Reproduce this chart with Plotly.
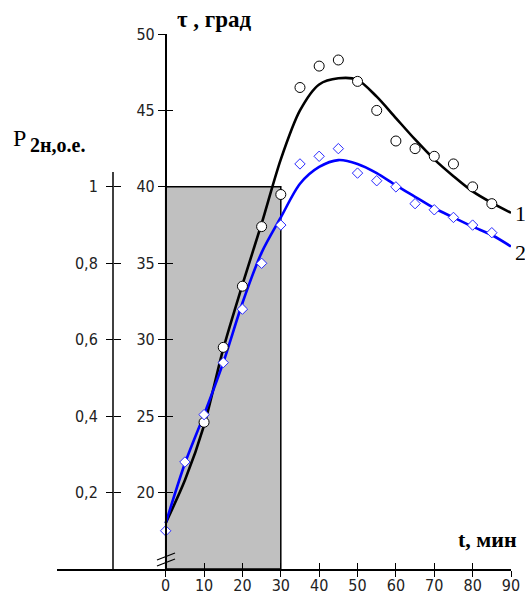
import plotly.graph_objects as go

# ---------------- data ----------------
t_ticks = [0, 10, 20, 30, 40, 50, 60, 70, 80, 90]
tau_ticks = [20, 25, 30, 35, 40, 45, 50]
p_ticks = [0.2, 0.4, 0.6, 0.8, 1.0]
p_ticklabels = ["0,2", "0,4", "0,6", "0,8", "1"]

# curve 1 (black, smoothed model)
curve_t = [0, 5, 10, 15, 20, 25, 30, 35, 40, 45, 50, 55, 60, 65, 70, 75, 80, 85, 90]
curve1_tau = [18.0, 20.8, 24.4, 29.4, 33.6, 37.6, 41.8, 45.0, 46.7, 47.1, 47.0,
              45.9, 44.5, 43.1, 41.8, 40.7, 39.7, 38.95, 38.3]
# curve 2 (blue)
curve2_tau = [18.0, 21.9, 25.1, 28.5, 32.4, 35.7, 38.0, 40.2, 41.3, 41.75, 41.5,
              40.9, 40.1, 39.35, 38.6, 38.0, 37.4, 36.85, 36.1]

# measured points, series 1 (circles)
pts1_t = [10, 15, 20, 25, 30, 35, 40, 45, 50, 55, 60, 65, 70, 75, 80, 85]
pts1_tau = [24.6, 29.5, 33.5, 37.4, 39.5, 46.5, 47.9, 48.3, 46.9, 45.0, 43.0,
            42.5, 42.0, 41.5, 40.0, 38.9]
# measured points, series 2 (diamonds)
pts2_t = [0, 5, 10, 15, 20, 25, 30, 35, 40, 45, 50, 55, 60, 65, 70, 75, 80, 85]
pts2_tau = [17.5, 22.0, 25.1, 28.5, 32.0, 35.0, 37.5, 41.5, 42.0, 42.5, 40.9,
            40.4, 40.0, 38.9, 38.5, 38.0, 37.5, 37.0]

# load pulse P2н = 1 for t in [0, 30]
pulse_t = [0, 30]
pulse_p = 1.0

# ---------------- geometry ----------------
W, H = 525, 594
TAU_MIN, TAU_MAX = 15, 50
X_LEFT_PX, X0_PX, X90_PX = 57, 165.7, 511
Y_BOT_PX, Y_TOP_PX = 569, 34
P_AXIS_PX = 113

px_per_min = (X90_PX - X0_PX) / 90.0
t_left = (X_LEFT_PX - X0_PX) / px_per_min
px_per_deg = (Y_BOT_PX - Y_TOP_PX) / (TAU_MAX - TAU_MIN)
p_scale = 25.0  # 1 p.u. == 25 degrees on the chart


def tau_of_px(py_):
    return TAU_MIN + (Y_BOT_PX - py_) / px_per_deg


def px(x):
    return x / W


def py(y):
    return 1 - y / H


tick_font = dict(family="Liberation Sans Narrow, DejaVu Sans Condensed, Arial Narrow, sans-serif",
                 size=16, color="#222")
serif = "Liberation Serif, Times New Roman, serif"

fig = go.Figure()

fig.add_trace(go.Scatter(x=curve_t, y=curve1_tau, mode="lines",
                         line=dict(color="black", width=2.6, shape="spline", smoothing=0.8),
                         showlegend=False, hoverinfo="skip"))
fig.add_trace(go.Scatter(x=curve_t, y=curve2_tau, mode="lines",
                         line=dict(color="#0000ff", width=2.6, shape="spline", smoothing=0.8),
                         showlegend=False, hoverinfo="skip"))
fig.add_trace(go.Scatter(x=pts1_t, y=pts1_tau, mode="markers", cliponaxis=False,
                         marker=dict(symbol="circle", size=10, color="white",
                                     line=dict(color="black", width=1)),
                         showlegend=False))
fig.add_trace(go.Scatter(x=pts2_t, y=pts2_tau, mode="markers", cliponaxis=False,
                         marker=dict(symbol="diamond", size=8, color="white",
                                     line=dict(color="#2a2aff", width=1)),
                         showlegend=False))
# empty helper traces so the overlay axes get drawn
fig.add_trace(go.Scatter(x=[None], y=[None], xaxis="x2", yaxis="y", showlegend=False, hoverinfo="skip"))
fig.add_trace(go.Scatter(x=[None], y=[None], xaxis="x", yaxis="y2", showlegend=False, hoverinfo="skip"))
fig.add_trace(go.Scatter(x=[None], y=[None], xaxis="x", yaxis="y3", showlegend=False, hoverinfo="skip"))
fig.add_trace(go.Scatter(x=[None], y=[None], xaxis="x", yaxis="y4", showlegend=False, hoverinfo="skip"))

xdom = [px(X_LEFT_PX), px(X90_PX)]
ydom = [py(Y_BOT_PX), py(Y_TOP_PX)]
p_range = [0, (TAU_MAX - TAU_MIN) / p_scale]

common_x = dict(domain=xdom, range=[t_left, 90], tickvals=t_ticks, showgrid=False,
                zeroline=False, anchor="y", tickcolor="black", tickwidth=1.3, ticklen=6,
                fixedrange=True, automargin=False)
fig.update_layout(
    width=W, height=H, autosize=False,
    margin=dict(l=0, r=0, t=0, b=0, pad=0),
    paper_bgcolor="white", plot_bgcolor="rgba(0,0,0,0)",
    xaxis=dict(**common_x, ticks="outside", showline=True, linecolor="black", linewidth=1.5,
               tickfont=tick_font, ticklabelstandoff=-5),
    xaxis2=dict(**common_x, overlaying="x", ticks="inside", showline=False, showticklabels=False),
    yaxis=dict(domain=ydom, range=[TAU_MIN, TAU_MAX], tickvals=tau_ticks, anchor="free",
               position=px(X0_PX), ticks="outside", ticklen=7, tickwidth=1.3, tickcolor="black",
               showline=True, linecolor="black", linewidth=1.5, showgrid=False, zeroline=False,
               tickfont=tick_font, fixedrange=True, automargin=False),
    yaxis3=dict(overlaying="y", range=[TAU_MIN, TAU_MAX], tickvals=tau_ticks, anchor="free",
                position=px(X0_PX), ticks="inside", ticklen=6, tickwidth=1.3, tickcolor="black",
                showline=False, showgrid=False, zeroline=False, showticklabels=False,
                fixedrange=True, automargin=False),
    yaxis2=dict(overlaying="y", range=p_range, tickvals=p_ticks, ticktext=p_ticklabels,
                anchor="free", position=px(P_AXIS_PX), ticks="outside", ticklen=7,
                tickwidth=1.3, tickcolor="black", showline=False, showgrid=False,
                zeroline=False, tickfont=tick_font, ticklabelstandoff=5, fixedrange=True,
                automargin=False),
    yaxis4=dict(overlaying="y", range=p_range, tickvals=p_ticks, anchor="free",
                position=px(P_AXIS_PX), ticks="inside", ticklen=7, tickwidth=1.3,
                tickcolor="black", showline=False, showgrid=False, zeroline=False,
                showticklabels=False, fixedrange=True, automargin=False),
)

# grey load pulse (in P units on the P axis)
fig.add_shape(type="rect", xref="x", yref="y2", x0=pulse_t[0], x1=pulse_t[1],
              y0=0, y1=pulse_p, fillcolor="#c0c0c0",
              line=dict(color="black", width=1.5), layer="below")
# P axis line (extends slightly beyond its ticks)
fig.add_shape(type="line", xref="paper", yref="y",
              x0=px(P_AXIS_PX), x1=px(P_AXIS_PX),
              y0=tau_of_px(575), y1=tau_of_px(172),
              line=dict(color="black", width=1.5))
# axis break marks on the tau axis
for dy in (0, 6):
    fig.add_shape(type="line", xref="paper", yref="paper",
                  x0=px(157), y0=py(560 + dy), x1=px(175), y1=py(553 + dy),
                  line=dict(color="black", width=1.3))

# texts
fig.add_annotation(text="<b>τ , град</b>", xref="paper", yref="paper",
                   x=px(176), y=py(20), xanchor="left", yanchor="middle", align="left",
                   showarrow=False, borderpad=0,
                   font=dict(family=serif, size=23, color="black"))
fig.add_annotation(text="P", xref="paper", yref="paper",
                   x=px(19), y=py(138), xanchor="center", yanchor="middle",
                   showarrow=False, font=dict(family=serif, size=24, color="black"))
fig.add_annotation(text="<b>2н,о.е.</b>", xref="paper", yref="paper",
                   x=px(28), y=py(145), xanchor="left", yanchor="middle",
                   showarrow=False, font=dict(family=serif, size=20, color="black"))
fig.add_annotation(text="<b>t, мин</b>", xref="paper", yref="paper",
                   x=px(487), y=py(539), xanchor="center", yanchor="middle",
                   showarrow=False, font=dict(family=serif, size=22, color="black"))
fig.add_annotation(text="1", xref="paper", yref="paper",
                   x=px(513), y=py(213), xanchor="left", yanchor="middle",
                   showarrow=False, font=dict(family=serif, size=22, color="black"))
fig.add_annotation(text="2", xref="paper", yref="paper",
                   x=px(513), y=py(252), xanchor="left", yanchor="middle",
                   showarrow=False, font=dict(family=serif, size=22, color="black"))

fig.write_html(
    "out.html",
    config={"displayModeBar": False},
    post_script="document.body.style.margin='0';document.documentElement.style.overflow='hidden';",
)
